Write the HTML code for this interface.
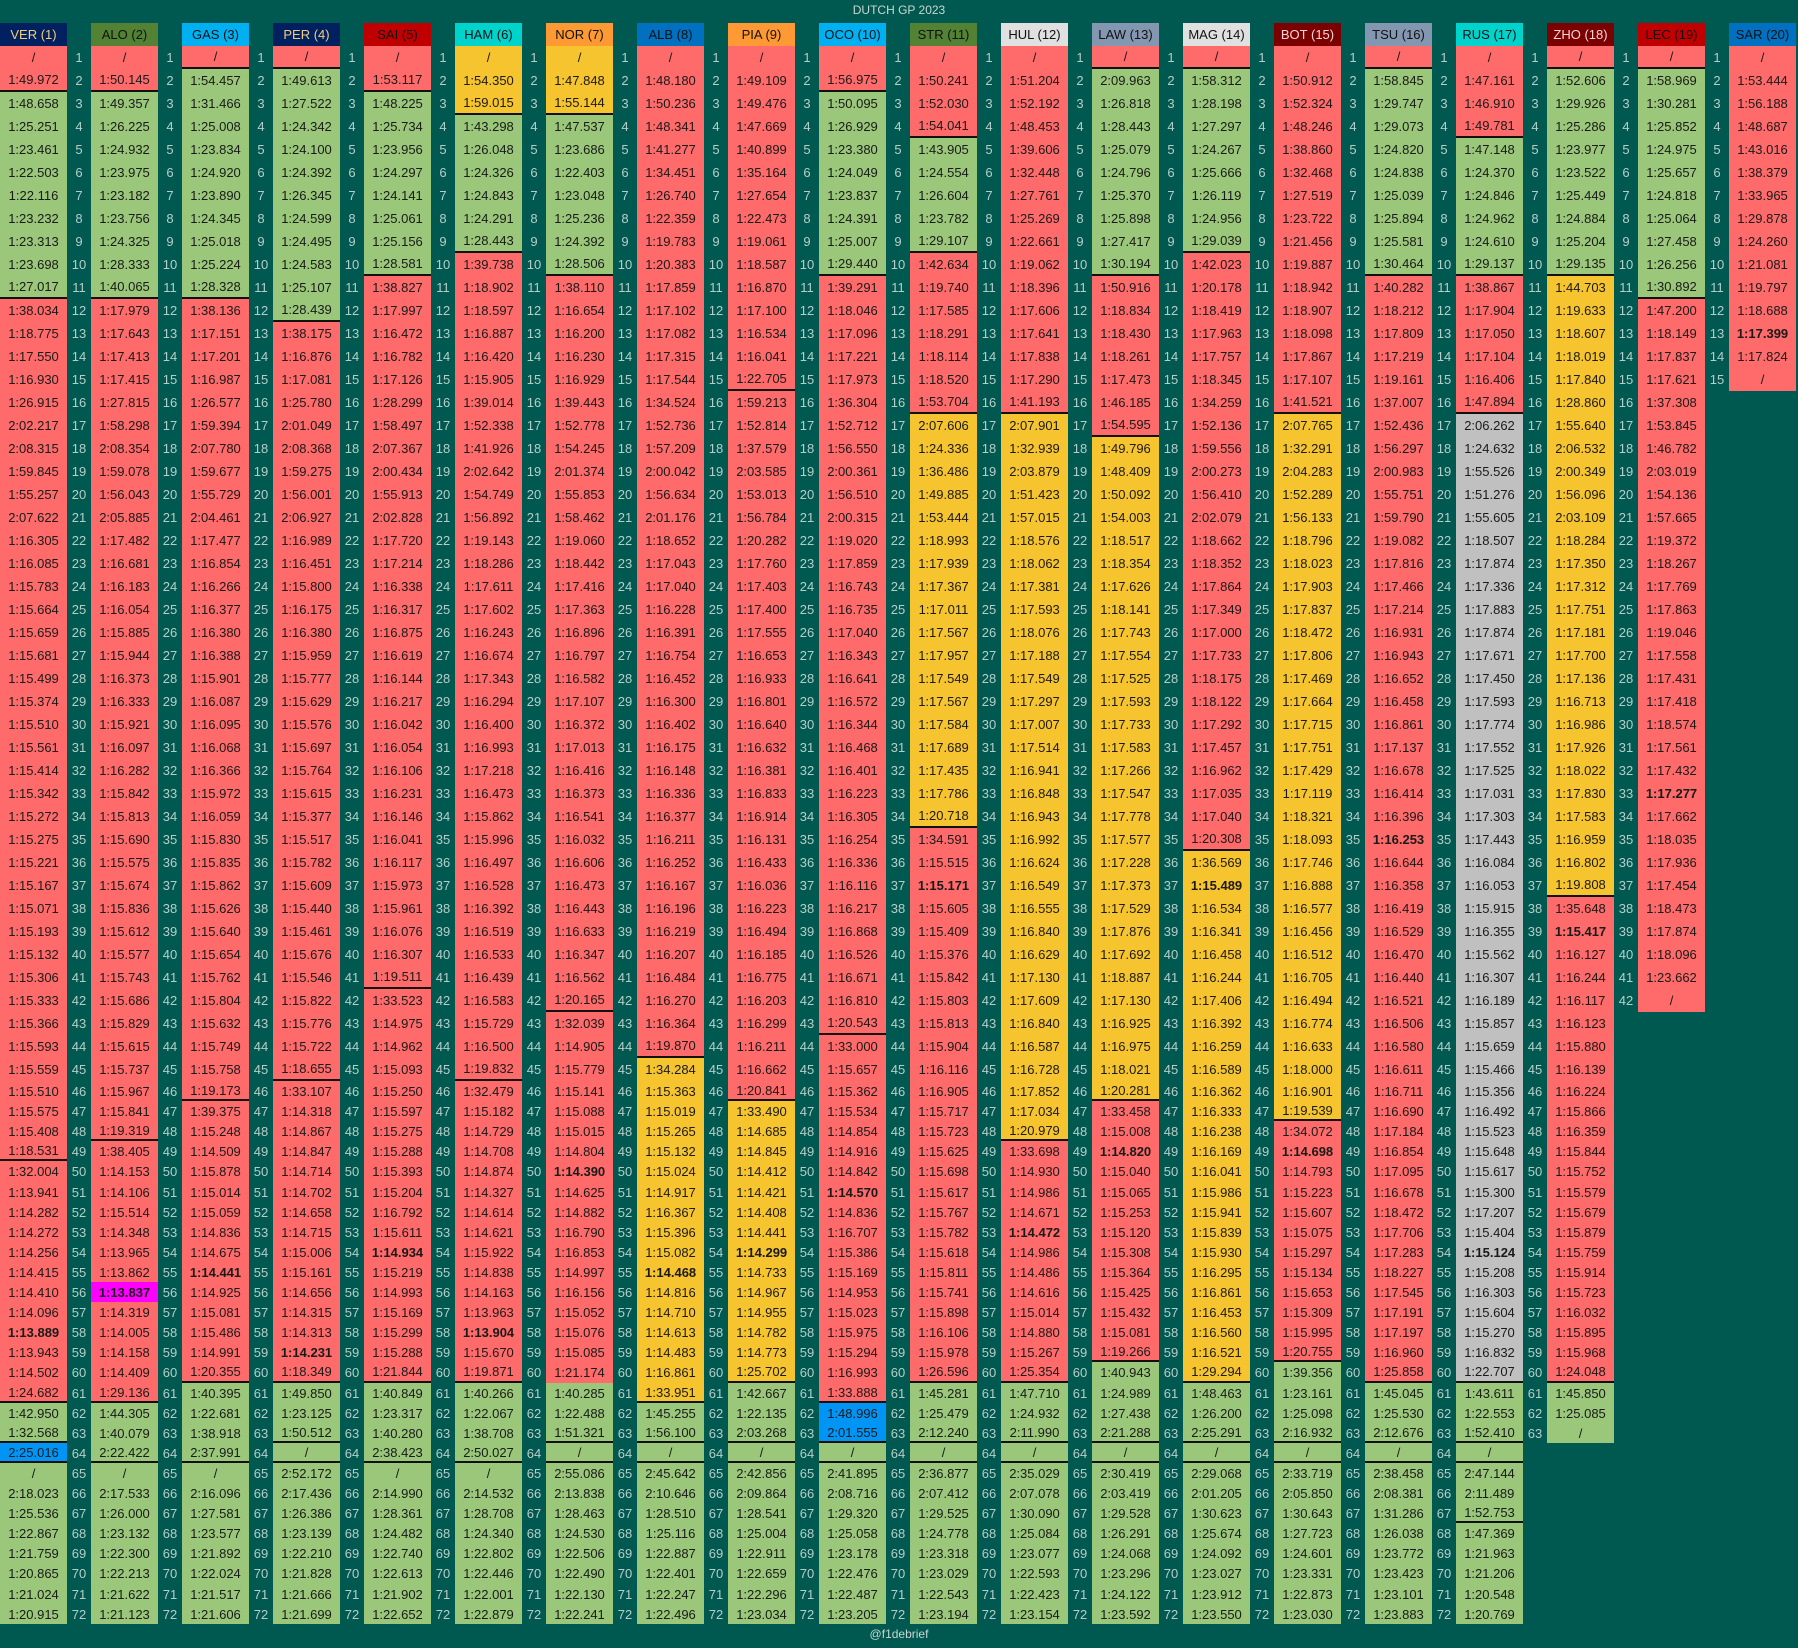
<!DOCTYPE html>
<html><head><meta charset="utf-8"><title>Dutch GP 2023 lap times</title>
<style>
html,body{margin:0;padding:0;background:#005950;}
#root{position:relative;width:1798px;height:1648px;overflow:hidden;background:#005950;font-family:"Liberation Sans",sans-serif;}
.c{position:absolute;display:flex;align-items:center;justify-content:center;font-size:13px;color:#1a1a1a;box-sizing:border-box;white-space:nowrap;}
.n{position:absolute;display:flex;align-items:center;justify-content:center;font-size:13px;color:#b9cdc8;}
.h{position:absolute;display:flex;align-items:center;justify-content:center;font-size:13px;top:23px;height:23px;width:67px;}
.t{position:absolute;left:0;width:1798px;text-align:center;font-size:12px;color:#c9d6d3;}
</style></head><body>
<div id="root">
<div class="t" style="top:3px">DUTCH GP 2023</div>
<div class="t" style="top:1627px">@f1debrief</div>
</div>
<script>
const drivers = ["VER (1)","ALO (2)","GAS (3)","PER (4)","SAI (5)","HAM (6)","NOR (7)","ALB (8)","PIA (9)","OCO (10)","STR (11)","HUL (12)","LAW (13)","MAG (14)","BOT (15)","TSU (16)","RUS (17)","ZHO (18)","LEC (19)","SAR (20)"];
const headerBg = ["#002060","#548235","#00B0F0","#002060","#C00000","#00D2CC","#FF9933","#0070C0","#FF9933","#00B0F0","#548235","#E0E0E0","#8497B0","#E0E0E0","#7B0000","#8497B0","#00D2CC","#7B0000","#C00000","#0070C0"];
const headerFg = ["#F2CC7A","#111","#111","#F2CC7A","#111","#111","#111","#111","#111","#111","#111","#111","#111","#111","#F6D6D6","#111","#111","#F6D6D6","#111","#111"];
const lapTimes = [
"/ 1:49.972 1:48.658 1:25.251 1:23.461 1:22.503 1:22.116 1:23.232 1:23.313 1:23.698 1:27.017 1:38.034 1:18.775 1:17.550 1:16.930 1:26.915 2:02.217 2:08.315 1:59.845 1:55.257 2:07.622 1:16.305 1:16.085 1:15.783 1:15.664 1:15.659 1:15.681 1:15.499 1:15.374 1:15.510 1:15.561 1:15.414 1:15.342 1:15.272 1:15.275 1:15.221 1:15.167 1:15.071 1:15.193 1:15.132 1:15.306 1:15.333 1:15.366 1:15.593 1:15.559 1:15.510 1:15.575 1:15.408 1:18.531 1:32.004 1:13.941 1:14.282 1:14.272 1:14.256 1:14.415 1:14.410 1:14.096 1:13.889 1:13.943 1:14.502 1:24.682 1:42.950 1:32.568 2:25.016 / 2:18.023 1:25.536 1:22.867 1:21.759 1:20.865 1:21.024 1:20.915",
"/ 1:50.145 1:49.357 1:26.225 1:24.932 1:23.975 1:23.182 1:23.756 1:24.325 1:28.333 1:40.065 1:17.979 1:17.643 1:17.413 1:17.415 1:27.815 1:58.298 2:08.354 1:59.078 1:56.043 2:05.885 1:17.482 1:16.681 1:16.183 1:16.054 1:15.885 1:15.944 1:16.373 1:16.333 1:15.921 1:16.097 1:16.282 1:15.842 1:15.813 1:15.690 1:15.575 1:15.674 1:15.836 1:15.612 1:15.577 1:15.743 1:15.686 1:15.829 1:15.615 1:15.737 1:15.967 1:15.841 1:19.319 1:38.405 1:14.153 1:14.106 1:15.514 1:14.348 1:13.965 1:13.862 1:13.837 1:14.319 1:14.005 1:14.158 1:14.409 1:29.136 1:44.305 1:40.079 2:22.422 / 2:17.533 1:26.000 1:23.132 1:22.300 1:22.213 1:21.622 1:21.123",
"/ 1:54.457 1:31.466 1:25.008 1:23.834 1:24.920 1:23.890 1:24.345 1:25.018 1:25.224 1:28.328 1:38.136 1:17.151 1:17.201 1:16.987 1:26.577 1:59.394 2:07.780 1:59.677 1:55.729 2:04.461 1:17.477 1:16.854 1:16.266 1:16.377 1:16.380 1:16.388 1:15.901 1:16.087 1:16.095 1:16.068 1:16.366 1:15.972 1:16.059 1:15.830 1:15.835 1:15.862 1:15.626 1:15.640 1:15.654 1:15.762 1:15.804 1:15.632 1:15.749 1:15.758 1:19.173 1:39.375 1:15.248 1:14.509 1:15.878 1:15.014 1:15.059 1:14.836 1:14.675 1:14.441 1:14.925 1:15.081 1:15.486 1:14.991 1:20.355 1:40.395 1:22.681 1:38.918 2:37.991 / 2:16.096 1:27.581 1:23.577 1:21.892 1:22.024 1:21.517 1:21.606",
"/ 1:49.613 1:27.522 1:24.342 1:24.100 1:24.392 1:26.345 1:24.599 1:24.495 1:24.583 1:25.107 1:28.439 1:38.175 1:16.876 1:17.081 1:25.780 2:01.049 2:08.368 1:59.275 1:56.001 2:06.927 1:16.989 1:16.451 1:15.800 1:16.175 1:16.380 1:15.959 1:15.777 1:15.629 1:15.576 1:15.697 1:15.764 1:15.615 1:15.377 1:15.517 1:15.782 1:15.609 1:15.440 1:15.461 1:15.676 1:15.546 1:15.822 1:15.776 1:15.722 1:18.655 1:33.107 1:14.318 1:14.867 1:14.847 1:14.714 1:14.702 1:14.658 1:14.715 1:15.006 1:15.161 1:14.656 1:14.315 1:14.313 1:14.231 1:18.349 1:49.850 1:23.125 1:50.512 / 2:52.172 2:17.436 1:26.386 1:23.139 1:22.210 1:21.828 1:21.666 1:21.699",
"/ 1:53.117 1:48.225 1:25.734 1:23.956 1:24.297 1:24.141 1:25.061 1:25.156 1:28.581 1:38.827 1:17.997 1:16.472 1:16.782 1:17.126 1:28.299 1:58.497 2:07.367 2:00.434 1:55.913 2:02.828 1:17.720 1:17.214 1:16.338 1:16.317 1:16.875 1:16.619 1:16.144 1:16.217 1:16.042 1:16.054 1:16.106 1:16.231 1:16.146 1:16.041 1:16.117 1:15.973 1:15.961 1:16.076 1:16.307 1:19.511 1:33.523 1:14.975 1:14.962 1:15.093 1:15.250 1:15.597 1:15.275 1:15.288 1:15.393 1:15.204 1:16.792 1:15.611 1:14.934 1:15.219 1:14.993 1:15.169 1:15.299 1:15.288 1:21.844 1:40.849 1:23.317 1:40.280 2:38.423 / 2:14.990 1:28.361 1:24.482 1:22.740 1:22.613 1:21.902 1:22.652",
"/ 1:54.350 1:59.015 1:43.298 1:26.048 1:24.326 1:24.843 1:24.291 1:28.443 1:39.738 1:18.902 1:18.597 1:16.887 1:16.420 1:15.905 1:39.014 1:52.338 1:41.926 2:02.642 1:54.749 1:56.892 1:19.143 1:18.286 1:17.611 1:17.602 1:16.243 1:16.674 1:17.343 1:16.294 1:16.400 1:16.993 1:17.218 1:16.473 1:15.862 1:15.996 1:16.497 1:16.528 1:16.392 1:16.519 1:16.533 1:16.439 1:16.583 1:15.729 1:16.500 1:19.832 1:32.479 1:15.182 1:14.729 1:14.708 1:14.874 1:14.327 1:14.614 1:14.621 1:15.922 1:14.838 1:14.163 1:13.963 1:13.904 1:15.670 1:19.871 1:40.266 1:22.067 1:38.708 2:50.027 / 2:14.532 1:28.708 1:24.340 1:22.802 1:22.446 1:22.001 1:22.879",
"/ 1:47.848 1:55.144 1:47.537 1:23.686 1:22.403 1:23.048 1:25.236 1:24.392 1:28.506 1:38.110 1:16.654 1:16.200 1:16.230 1:16.929 1:39.443 1:52.778 1:54.245 2:01.374 1:55.853 1:58.462 1:19.060 1:18.442 1:17.416 1:17.363 1:16.896 1:16.797 1:16.582 1:17.107 1:16.372 1:17.013 1:16.416 1:16.373 1:16.541 1:16.032 1:16.606 1:16.473 1:16.443 1:16.633 1:16.347 1:16.562 1:20.165 1:32.039 1:14.905 1:15.779 1:15.141 1:15.088 1:15.015 1:14.804 1:14.390 1:14.625 1:14.882 1:16.790 1:16.853 1:14.997 1:16.156 1:15.052 1:15.076 1:15.085 1:21.174 1:40.285 1:22.488 1:51.321 / 2:55.086 2:13.838 1:28.463 1:24.530 1:22.506 1:22.490 1:22.130 1:22.241",
"/ 1:48.180 1:50.236 1:48.341 1:41.277 1:34.451 1:26.740 1:22.359 1:19.783 1:20.383 1:17.859 1:17.102 1:17.082 1:17.315 1:17.544 1:34.524 1:52.736 1:57.209 2:00.042 1:56.634 2:01.176 1:18.652 1:17.043 1:17.040 1:16.228 1:16.391 1:16.754 1:16.452 1:16.300 1:16.402 1:16.175 1:16.148 1:16.336 1:16.377 1:16.211 1:16.252 1:16.167 1:16.196 1:16.219 1:16.207 1:16.484 1:16.270 1:16.364 1:19.870 1:34.284 1:15.363 1:15.019 1:15.265 1:15.132 1:15.024 1:14.917 1:16.367 1:15.396 1:15.082 1:14.468 1:14.816 1:14.710 1:14.613 1:14.483 1:16.861 1:33.951 1:45.255 1:56.100 / 2:45.642 2:10.646 1:28.510 1:25.116 1:22.887 1:22.401 1:22.247 1:22.496",
"/ 1:49.109 1:49.476 1:47.669 1:40.899 1:35.164 1:27.654 1:22.473 1:19.061 1:18.587 1:16.870 1:17.100 1:16.534 1:16.041 1:22.705 1:59.213 1:52.814 1:37.579 2:03.585 1:53.013 1:56.784 1:20.282 1:17.760 1:17.403 1:17.400 1:17.555 1:16.653 1:16.933 1:16.801 1:16.640 1:16.632 1:16.381 1:16.833 1:16.914 1:16.131 1:16.433 1:16.036 1:16.223 1:16.494 1:16.185 1:16.775 1:16.203 1:16.299 1:16.211 1:16.662 1:20.841 1:33.490 1:14.685 1:14.845 1:14.412 1:14.421 1:14.408 1:14.441 1:14.299 1:14.733 1:14.967 1:14.955 1:14.782 1:14.773 1:25.702 1:42.667 1:22.135 2:03.268 / 2:42.856 2:09.864 1:28.541 1:25.004 1:22.911 1:22.659 1:22.296 1:23.034",
"/ 1:56.975 1:50.095 1:26.929 1:23.380 1:24.049 1:23.837 1:24.391 1:25.007 1:29.440 1:39.291 1:18.046 1:17.096 1:17.221 1:17.973 1:36.304 1:52.712 1:56.550 2:00.361 1:56.510 2:00.315 1:19.020 1:17.859 1:16.743 1:16.735 1:17.040 1:16.343 1:16.641 1:16.572 1:16.344 1:16.468 1:16.401 1:16.223 1:16.305 1:16.254 1:16.336 1:16.116 1:16.217 1:16.868 1:16.526 1:16.671 1:16.810 1:20.543 1:33.000 1:15.657 1:15.362 1:15.534 1:14.854 1:14.916 1:14.842 1:14.570 1:14.836 1:16.707 1:15.386 1:15.169 1:14.953 1:15.023 1:15.975 1:15.294 1:16.993 1:33.888 1:48.996 2:01.555 / 2:41.895 2:08.716 1:29.320 1:25.058 1:23.178 1:22.476 1:22.487 1:23.205",
"/ 1:50.241 1:52.030 1:54.041 1:43.905 1:24.554 1:26.604 1:23.782 1:29.107 1:42.634 1:19.740 1:17.585 1:18.291 1:18.114 1:18.520 1:53.704 2:07.606 1:24.336 1:36.486 1:49.885 1:53.444 1:18.993 1:17.939 1:17.367 1:17.011 1:17.567 1:17.957 1:17.549 1:17.567 1:17.584 1:17.689 1:17.435 1:17.786 1:20.718 1:34.591 1:15.515 1:15.171 1:15.605 1:15.409 1:15.376 1:15.842 1:15.803 1:15.813 1:15.904 1:16.116 1:16.905 1:15.717 1:15.723 1:15.625 1:15.698 1:15.617 1:15.767 1:15.782 1:15.618 1:15.811 1:15.741 1:15.898 1:16.106 1:15.978 1:26.596 1:45.281 1:25.479 2:12.240 / 2:36.877 2:07.412 1:29.525 1:24.778 1:23.318 1:23.029 1:22.543 1:23.194",
"/ 1:51.204 1:52.192 1:48.453 1:39.606 1:32.448 1:27.761 1:25.269 1:22.661 1:19.062 1:18.396 1:17.606 1:17.641 1:17.838 1:17.290 1:41.193 2:07.901 1:32.939 2:03.879 1:51.423 1:57.015 1:18.576 1:18.062 1:17.381 1:17.593 1:18.076 1:17.188 1:17.549 1:17.297 1:17.007 1:17.514 1:16.941 1:16.848 1:16.943 1:16.992 1:16.624 1:16.549 1:16.555 1:16.840 1:16.629 1:17.130 1:17.609 1:16.840 1:16.587 1:16.728 1:17.852 1:17.034 1:20.979 1:33.698 1:14.930 1:14.986 1:14.671 1:14.472 1:14.986 1:14.486 1:14.616 1:15.014 1:14.880 1:15.267 1:25.354 1:47.710 1:24.932 2:11.990 / 2:35.029 2:07.078 1:30.090 1:25.084 1:23.077 1:22.593 1:22.423 1:23.154",
"/ 2:09.963 1:26.818 1:28.443 1:25.079 1:24.796 1:25.370 1:25.898 1:27.417 1:30.194 1:50.916 1:18.834 1:18.430 1:18.261 1:17.473 1:46.185 1:54.595 1:49.796 1:48.409 1:50.092 1:54.003 1:18.517 1:18.354 1:17.626 1:18.141 1:17.743 1:17.554 1:17.525 1:17.593 1:17.733 1:17.583 1:17.266 1:17.547 1:17.778 1:17.577 1:17.228 1:17.373 1:17.529 1:17.876 1:17.692 1:18.887 1:17.130 1:16.925 1:16.975 1:18.021 1:20.281 1:33.458 1:15.008 1:14.820 1:15.040 1:15.065 1:15.253 1:15.120 1:15.308 1:15.364 1:15.425 1:15.432 1:15.081 1:19.266 1:40.943 1:24.989 1:27.438 2:21.288 / 2:30.419 2:03.419 1:29.528 1:26.291 1:24.068 1:23.296 1:24.122 1:23.592",
"/ 1:58.312 1:28.198 1:27.297 1:24.267 1:25.666 1:26.119 1:24.956 1:29.039 1:42.023 1:20.178 1:18.419 1:17.963 1:17.757 1:18.345 1:34.259 1:52.136 1:59.556 2:00.273 1:56.410 2:02.079 1:18.662 1:18.352 1:17.864 1:17.349 1:17.000 1:17.733 1:18.175 1:18.122 1:17.292 1:17.457 1:16.962 1:17.035 1:17.040 1:20.308 1:36.569 1:15.489 1:16.534 1:16.341 1:16.458 1:16.244 1:17.406 1:16.392 1:16.259 1:16.589 1:16.362 1:16.333 1:16.238 1:16.169 1:16.041 1:15.986 1:15.941 1:15.839 1:15.930 1:16.295 1:16.861 1:16.453 1:16.560 1:16.521 1:29.294 1:48.463 1:26.200 2:25.291 / 2:29.068 2:01.205 1:30.623 1:25.674 1:24.092 1:23.027 1:23.912 1:23.550",
"/ 1:50.912 1:52.324 1:48.246 1:38.860 1:32.468 1:27.519 1:23.722 1:21.456 1:19.887 1:18.942 1:18.907 1:18.098 1:17.867 1:17.107 1:41.521 2:07.765 1:32.291 2:04.283 1:52.289 1:56.133 1:18.796 1:18.023 1:17.903 1:17.837 1:18.472 1:17.806 1:17.469 1:17.664 1:17.715 1:17.751 1:17.429 1:17.119 1:18.321 1:18.093 1:17.746 1:16.888 1:16.577 1:16.456 1:16.512 1:16.705 1:16.494 1:16.774 1:16.633 1:18.000 1:16.901 1:19.539 1:34.072 1:14.698 1:14.793 1:15.223 1:15.607 1:15.075 1:15.297 1:15.134 1:15.653 1:15.309 1:15.995 1:20.755 1:39.356 1:23.161 1:25.098 2:16.932 / 2:33.719 2:05.850 1:30.643 1:27.723 1:24.601 1:23.331 1:22.873 1:23.030",
"/ 1:58.845 1:29.747 1:29.073 1:24.820 1:24.838 1:25.039 1:25.894 1:25.581 1:30.464 1:40.282 1:18.212 1:17.809 1:17.219 1:19.161 1:37.007 1:52.436 1:56.297 2:00.983 1:55.751 1:59.790 1:19.082 1:17.816 1:17.466 1:17.214 1:16.931 1:16.943 1:16.652 1:16.458 1:16.861 1:17.137 1:16.678 1:16.414 1:16.396 1:16.253 1:16.644 1:16.358 1:16.419 1:16.529 1:16.470 1:16.440 1:16.521 1:16.506 1:16.580 1:16.611 1:16.711 1:16.690 1:17.184 1:16.854 1:17.095 1:16.678 1:18.472 1:17.706 1:17.283 1:18.227 1:17.545 1:17.191 1:17.197 1:16.960 1:25.858 1:45.045 1:25.530 2:12.676 / 2:38.458 2:08.381 1:31.286 1:26.038 1:23.772 1:23.423 1:23.101 1:23.883",
"/ 1:47.161 1:46.910 1:49.781 1:47.148 1:24.370 1:24.846 1:24.962 1:24.610 1:29.137 1:38.867 1:17.904 1:17.050 1:17.104 1:16.406 1:47.894 2:06.262 1:24.632 1:55.526 1:51.276 1:55.605 1:18.507 1:17.874 1:17.336 1:17.883 1:17.874 1:17.671 1:17.450 1:17.593 1:17.774 1:17.552 1:17.525 1:17.031 1:17.303 1:17.443 1:16.084 1:16.053 1:15.915 1:16.355 1:15.562 1:16.307 1:16.189 1:15.857 1:15.659 1:15.466 1:15.356 1:16.492 1:15.523 1:15.648 1:15.617 1:15.300 1:17.207 1:15.404 1:15.124 1:15.208 1:16.303 1:15.604 1:15.270 1:16.832 1:22.707 1:43.611 1:22.553 1:52.410 / 2:47.144 2:11.489 1:52.753 1:47.369 1:21.963 1:21.206 1:20.548 1:20.769",
"/ 1:52.606 1:29.926 1:25.286 1:23.977 1:23.522 1:25.449 1:24.884 1:25.204 1:29.135 1:44.703 1:19.633 1:18.607 1:18.019 1:17.840 1:28.860 1:55.640 2:06.532 2:00.349 1:56.096 2:03.109 1:18.284 1:17.350 1:17.312 1:17.751 1:17.181 1:17.700 1:17.136 1:16.713 1:16.986 1:17.926 1:18.022 1:17.830 1:17.583 1:16.959 1:16.802 1:19.808 1:35.648 1:15.417 1:16.127 1:16.244 1:16.117 1:16.123 1:15.880 1:16.139 1:16.224 1:15.866 1:16.359 1:15.844 1:15.752 1:15.579 1:15.679 1:15.879 1:15.759 1:15.914 1:15.723 1:16.032 1:15.895 1:15.968 1:24.048 1:45.850 1:25.085 /",
"/ 1:58.969 1:30.281 1:25.852 1:24.975 1:25.657 1:24.818 1:25.064 1:27.458 1:26.256 1:30.892 1:47.200 1:18.149 1:17.837 1:17.621 1:37.308 1:53.845 1:46.782 2:03.019 1:54.136 1:57.665 1:19.372 1:18.267 1:17.769 1:17.863 1:19.046 1:17.558 1:17.431 1:17.418 1:18.574 1:17.561 1:17.432 1:17.277 1:17.662 1:18.035 1:17.936 1:17.454 1:18.473 1:17.874 1:18.096 1:23.662 /",
"/ 1:53.444 1:56.188 1:48.687 1:43.016 1:38.379 1:33.965 1:29.878 1:24.260 1:21.081 1:19.797 1:18.688 1:17.399 1:17.824 /"
];
const stints = ["S1 I3 S12 I62 W64 I65","S1 I3 S12 I62","S1 I2 S12 I61","S1 I2 S13 I61","S1 I3 S11 I61","M1 I4 S10 I61","M1 I4 S11 I61","S1 M45 I62","S1 M47 I61","S1 I3 S11 W62 I64","S1 I5 S10 M17 S35 I61","S1 M17 S49 I61","S1 I2 S11 M18 S47 I60","S1 I2 S10 M36 I61","S1 M17 S48 I60","S1 I2 S11 I61","S1 I5 S11 H17 I61","S1 I2 M11 S38 I61","S1 I2 S12","S1"];
const pitLines = [[2,11,49,61,63,64],[2,11,48,61,64],[1,11,46,60,64],[1,12,45,60,63,64],[2,10,41,60,64],[3,9,45,60,64],[3,10,42,63,64],[44,61,63,64],[15,46,60,63,64],[2,10,43,61,63,64],[4,9,16,34,60,63,64],[16,48,60,63,64],[1,10,17,46,59,63,64],[1,9,35,60,63,64],[16,47,59,63,64],[1,10,60,63,64],[4,10,16,60,63,64,67],[1,10,37,60],[1,11],[]];
const bestLap = [58,56,55,59,54,58,50,55,54,51,37,53,49,37,49,35,54,39,33,13];
const fastestDriver = 1;
const compoundColor = {S:"#FF6A6A",I:"#9AC77A",M:"#F6C42E",H:"#C0C0C0",W:"#0095F5"};

const root = document.getElementById('root');
function rowTopRaw(r){ return r<=45 ? 46+(r-1)*23 : 1081+(r-46)*20.1; }
function rowTop(r){ return Math.round(rowTopRaw(r)); }
function rowH(r){ return Math.round(rowTopRaw(r+1)) - rowTop(r); }
function colX(i){ return i*91; }
function compoundAt(i, lap){
  let c='S';
  stints[i].split(' ').forEach(s=>{ if(lap>=parseInt(s.slice(1))) c=s[0]; });
  return c;
}
drivers.forEach((d,i)=>{
  const h=document.createElement('div');
  h.className='h';
  h.style.left=colX(i)+'px';
  h.style.background=headerBg[i];
  h.style.color=headerFg[i];
  h.textContent=d;
  
  
  root.appendChild(h);
  const times=lapTimes[i].split(' ');
  times.forEach((t,k)=>{
    const lap=k+1;
    const cell=document.createElement('div');
    cell.className='c';
    cell.style.left=colX(i)+'px';
    cell.style.top=rowTop(lap)+'px';
    cell.style.width='67px';
    cell.style.height=rowH(lap)+'px';
    let bg=compoundColor[compoundAt(i,lap)];
    if(i===fastestDriver && lap===bestLap[i]) bg='#FF00FF';
    cell.style.background=bg;
    if(lap===bestLap[i]) cell.style.fontWeight='bold';
    if(pitLines[i].indexOf(lap)>=0) cell.style.borderBottom='2px solid #111';
    cell.textContent=t;
    
    
    root.appendChild(cell);
    if(i>0){
      const n=document.createElement('div');
      n.className='n';
      n.style.left=(colX(i)-24)+'px';
      n.style.top=rowTop(lap)+'px';
      n.style.width='24px';
      n.style.height=rowH(lap)+'px';
      n.textContent=lap;
      
      
      root.appendChild(n);
    }
  });
});
</script>
</body></html>
